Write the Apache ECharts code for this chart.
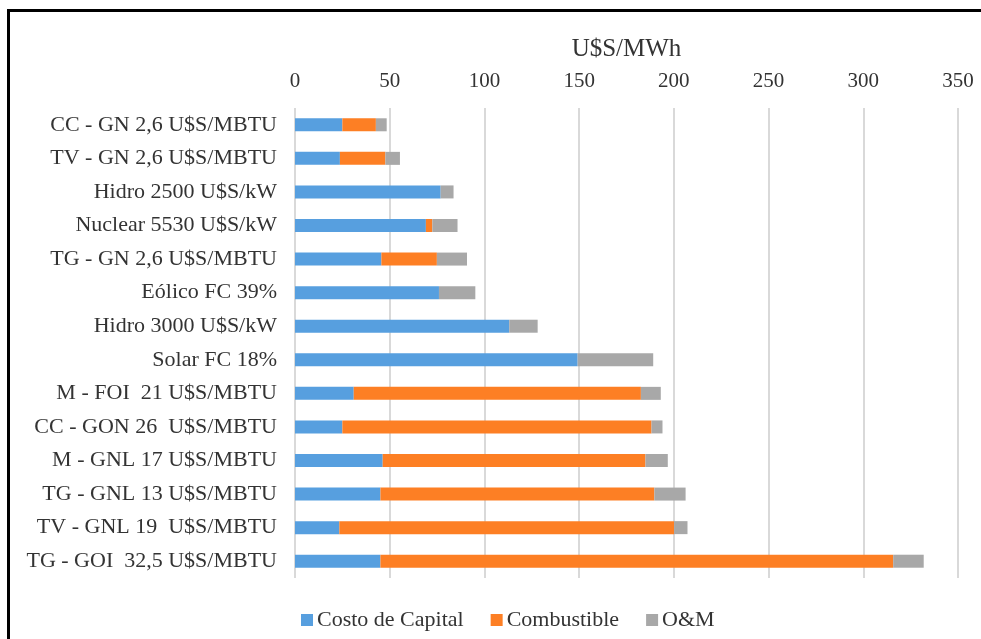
<!DOCTYPE html>
<html>
<head>
<meta charset="utf-8">
<title>Costo de generación U$S/MWh</title>
<script src="https://cdn.jsdelivr.net/npm/echarts@6/dist/echarts.min.js"></script>
<style>
  html, body { margin: 0; padding: 0; background: #fff; overflow: hidden; }
  #frame {
    position: absolute; left: 7px; top: 9px; width: 1200px; height: 900px;
    border-left: 3px solid #000; border-top: 3px solid #000; box-sizing: border-box;
  }
  #chart { position: absolute; left: 0; top: 0; width: 981px; height: 639px; }
</style>
</head>
<body>
<div id="frame"></div>
<div id="chart"></div>
<script>
// Technologies, listed from top to bottom
const categories = [
  'CC - GN 2,6 U$S/MBTU',
  'TV - GN 2,6 U$S/MBTU',
  'Hidro 2500 U$S/kW',
  'Nuclear 5530 U$S/kW',
  'TG - GN 2,6 U$S/MBTU',
  'Eólico FC 39%',
  'Hidro 3000 U$S/kW',
  'Solar FC 18%',
  'M - FOI  21 U$S/MBTU',
  'CC - GON 26  U$S/MBTU',
  'M - GNL 17 U$S/MBTU',
  'TG - GNL 13 U$S/MBTU',
  'TV - GNL 19  U$S/MBTU',
  'TG - GOI  32,5 U$S/MBTU'
];

// Cost components in U$S/MWh
const costoCapital = [25.0, 23.7, 76.9, 69.1, 45.6, 76.0, 113.1, 149.2, 31.0, 25.0, 46.3, 45.1, 23.4, 45.1];
const combustible  = [17.7, 24.0, 0, 3.4, 29.3, 0, 0, 0, 151.6, 163.2, 138.7, 144.6, 176.7, 270.7];
const oym          = [5.7, 7.7, 6.8, 13.3, 15.9, 19.2, 15.0, 39.9, 10.5, 5.8, 11.8, 16.5, 7.1, 16.1];

const axisTicks = { min: 0, max: 350, interval: 50 };

const font = '"Liberation Serif", "Times New Roman", serif';
const textColor = '#333';

const chart = echarts.init(document.getElementById('chart'), null, { renderer: 'canvas' });

function barSeries(name, data, color) {
  return {
    name: name,
    type: 'bar',
    stack: 'total',
    data: data,
    barWidth: 13,
    itemStyle: { color: color },
    emphasis: { disabled: true }
  };
}

chart.setOption({
  animation: false,
  textStyle: { fontFamily: font, color: textColor },
  grid: { left: 295, right: 23, top: 108, bottom: 61, containLabel: false },
  legend: {
    bottom: 3,
    left: 296,
    itemWidth: 12,
    itemHeight: 12,
    itemGap: 27,
    icon: 'rect',
    textStyle: { fontFamily: font, fontSize: 22, color: textColor, padding: [0, 0, 0, -1] },
    data: ['Costo de Capital', 'Combustible', 'O&M']
  },
  xAxis: {
    type: 'value',
    position: 'top',
    min: axisTicks.min,
    max: axisTicks.max,
    interval: axisTicks.interval,
    name: 'U$S/MWh',
    nameLocation: 'middle',
    nameGap: 46,
    nameTextStyle: { fontFamily: font, fontSize: 25, color: textColor },
    axisLine: { show: false },
    axisTick: { show: false },
    axisLabel: { fontFamily: font, fontSize: 21, color: textColor, margin: 16 },
    splitLine: { show: true, lineStyle: { color: '#d9d9d9', width: 2 } }
  },
  yAxis: {
    type: 'category',
    inverse: true,
    data: categories,
    axisLine: { show: false },
    axisTick: { show: false },
    axisLabel: { fontFamily: font, fontSize: 22, color: textColor, margin: 18 }
  },
  series: [
    barSeries('Costo de Capital', costoCapital, '#579fdf'),
    barSeries('Combustible', combustible, '#fd7f24'),
    barSeries('O&M', oym, '#a8a8a8')
  ]
});
</script>
</body>
</html>
